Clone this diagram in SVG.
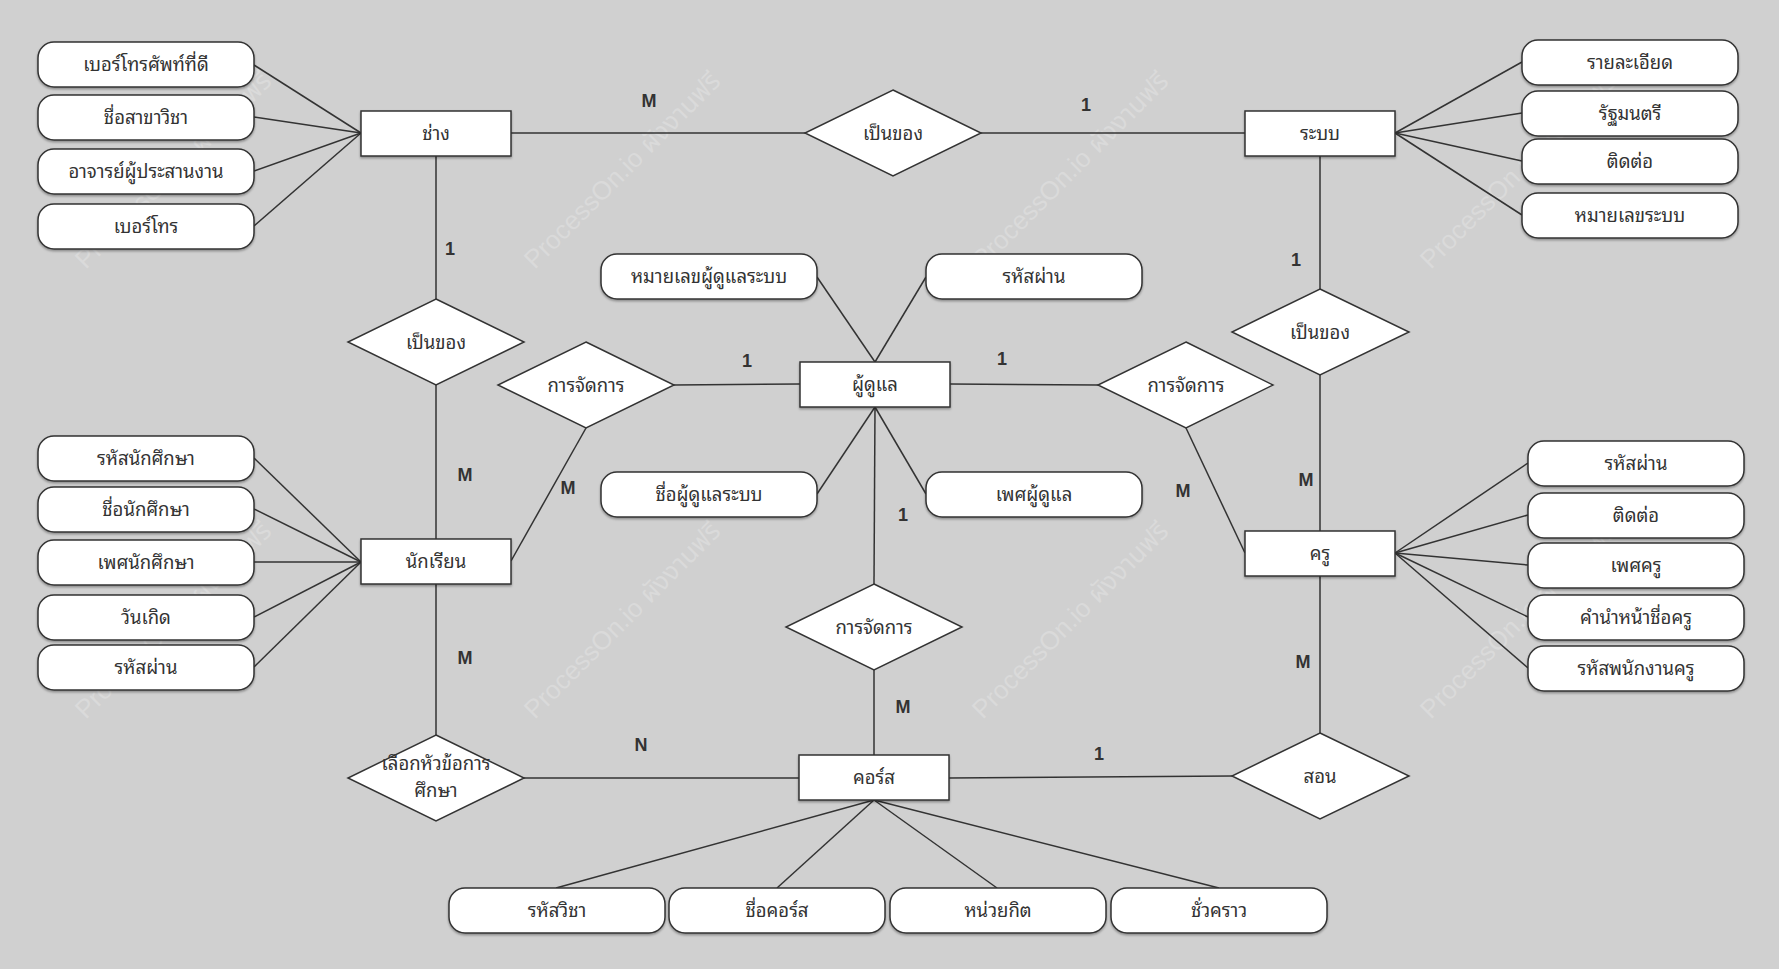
<svg xmlns="http://www.w3.org/2000/svg" width="1779" height="969" viewBox="0 0 1779 969">
<defs>
<filter id="sh" x="-10%" y="-20%" width="120%" height="150%">
<feDropShadow dx="0" dy="1.5" stdDeviation="0.8" flood-color="#000" flood-opacity="0.35"/>
</filter>
<style>
.bg{fill:#d0d0d0}
.wm{font-family:"Liberation Sans","Noto Sans Thai","Noto Sans","DejaVu Sans",sans-serif;font-size:26px;fill:#dadada;text-anchor:middle}
.pill{fill:#fff;stroke:#333;stroke-width:1.5;filter:url(#sh)}
.ent{fill:#fff;stroke:#333;stroke-width:1.5;filter:url(#sh)}
.rel{fill:#fff;stroke:#333;stroke-width:1.5}
.ln{stroke:#333;stroke-width:1.5;fill:none}
.t{font-family:"Noto Sans Thai Looped","Loma","Garuda","Waree","Tlwg Typo","Sarabun","Noto Sans Thai","Noto Sans","DejaVu Sans",sans-serif;font-size:18.5px;fill:#333;text-anchor:middle}
.c{font-family:"Liberation Sans",Arial,sans-serif;font-size:18px;font-weight:bold;fill:#333;text-anchor:middle}
</style>
</defs>
<rect class="bg" x="0" y="0" width="1779" height="969"/>
<g id="watermarks">
<text class="wm" transform="translate(173,170) rotate(-45)" y="9">ProcessOn.io ผังงานฟรี</text>
<text class="wm" transform="translate(622,170) rotate(-45)" y="9">ProcessOn.io ผังงานฟรี</text>
<text class="wm" transform="translate(1070,170) rotate(-45)" y="9">ProcessOn.io ผังงานฟรี</text>
<text class="wm" transform="translate(1518,170) rotate(-45)" y="9">ProcessOn.io ผังงานฟรี</text>
<text class="wm" transform="translate(173,620) rotate(-45)" y="9">ProcessOn.io ผังงานฟรี</text>
<text class="wm" transform="translate(622,620) rotate(-45)" y="9">ProcessOn.io ผังงานฟรี</text>
<text class="wm" transform="translate(1070,620) rotate(-45)" y="9">ProcessOn.io ผังงานฟรี</text>
<text class="wm" transform="translate(1518,620) rotate(-45)" y="9">ProcessOn.io ผังงานฟรี</text>
</g>
<g id="connectors">
<line class="ln" x1="254" y1="65" x2="361" y2="133"/>
<line class="ln" x1="254" y1="117" x2="361" y2="133"/>
<line class="ln" x1="254" y1="171" x2="361" y2="133"/>
<line class="ln" x1="254" y1="226" x2="361" y2="133"/>
<line class="ln" x1="511" y1="133" x2="805" y2="133"/>
<line class="ln" x1="981" y1="133" x2="1245" y2="133"/>
<line class="ln" x1="1395" y1="133" x2="1522" y2="62"/>
<line class="ln" x1="1395" y1="133" x2="1522" y2="113"/>
<line class="ln" x1="1395" y1="133" x2="1522" y2="161"/>
<line class="ln" x1="1395" y1="133" x2="1522" y2="215"/>
<line class="ln" x1="436" y1="156" x2="436" y2="299"/>
<line class="ln" x1="436" y1="385" x2="436" y2="539"/>
<line class="ln" x1="1320" y1="156" x2="1320" y2="289"/>
<line class="ln" x1="1320" y1="375" x2="1320" y2="531"/>
<line class="ln" x1="875" y1="362" x2="817" y2="277"/>
<line class="ln" x1="875" y1="362" x2="926" y2="277"/>
<line class="ln" x1="875" y1="407" x2="817" y2="494"/>
<line class="ln" x1="875" y1="407" x2="926" y2="494"/>
<line class="ln" x1="800" y1="384" x2="674" y2="385"/>
<line class="ln" x1="586" y1="428" x2="511" y2="561"/>
<line class="ln" x1="950" y1="384" x2="1098" y2="385"/>
<line class="ln" x1="1186" y1="428" x2="1245" y2="553"/>
<line class="ln" x1="875" y1="407" x2="874" y2="584"/>
<line class="ln" x1="874" y1="670" x2="874" y2="755"/>
<line class="ln" x1="254" y1="458" x2="361" y2="562"/>
<line class="ln" x1="254" y1="509" x2="361" y2="562"/>
<line class="ln" x1="254" y1="562" x2="361" y2="562"/>
<line class="ln" x1="254" y1="617" x2="361" y2="562"/>
<line class="ln" x1="254" y1="667" x2="361" y2="562"/>
<line class="ln" x1="436" y1="584" x2="436" y2="735"/>
<line class="ln" x1="524" y1="778" x2="799" y2="778"/>
<line class="ln" x1="1395" y1="553" x2="1528" y2="463"/>
<line class="ln" x1="1395" y1="553" x2="1528" y2="515"/>
<line class="ln" x1="1395" y1="553" x2="1528" y2="565"/>
<line class="ln" x1="1395" y1="553" x2="1528" y2="617"/>
<line class="ln" x1="1395" y1="553" x2="1528" y2="668"/>
<line class="ln" x1="1320" y1="576" x2="1320" y2="733"/>
<line class="ln" x1="949" y1="778" x2="1232" y2="776"/>
<line class="ln" x1="874" y1="800" x2="556" y2="888"/>
<line class="ln" x1="874" y1="800" x2="777" y2="888"/>
<line class="ln" x1="874" y1="800" x2="997" y2="888"/>
<line class="ln" x1="874" y1="800" x2="1219" y2="888"/>
</g>
<g id="cardinalities">
<text class="c" x="649" y="107">M</text>
<text class="c" x="1086" y="111">1</text>
<text class="c" x="450" y="255">1</text>
<text class="c" x="1296" y="266">1</text>
<text class="c" x="747" y="367">1</text>
<text class="c" x="1002" y="365">1</text>
<text class="c" x="465" y="481">M</text>
<text class="c" x="568" y="494">M</text>
<text class="c" x="1183" y="497">M</text>
<text class="c" x="1306" y="486">M</text>
<text class="c" x="903" y="521">1</text>
<text class="c" x="465" y="664">M</text>
<text class="c" x="1303" y="668">M</text>
<text class="c" x="903" y="713">M</text>
<text class="c" x="641" y="751">N</text>
<text class="c" x="1099" y="760">1</text>
</g>
<g id="e-chang"><rect class="ent" x="361" y="111" width="150" height="45"/><text class="t" x="436" y="140">ช่าง</text></g>
<g id="e-rabob"><rect class="ent" x="1245" y="111" width="150" height="45"/><text class="t" x="1320" y="140">ระบบ</text></g>
<g id="e-admin"><rect class="ent" x="800" y="362" width="150" height="45"/><text class="t" x="875" y="391">ผู้ดูแล</text></g>
<g id="e-student"><rect class="ent" x="361" y="539" width="150" height="45"/><text class="t" x="436" y="568">นักเรียน</text></g>
<g id="e-teacher"><rect class="ent" x="1245" y="531" width="150" height="45"/><text class="t" x="1320" y="560">ครู</text></g>
<g id="e-course"><rect class="ent" x="799" y="755" width="150" height="45"/><text class="t" x="874" y="784">คอร์ส</text></g>
<g id="r-belong1"><polygon class="rel" points="436,299 524,342 436,385 348,342"/><text class="t" x="436" y="349">เป็นของ</text></g>
<g id="r-belong2"><polygon class="rel" points="893,90 981,133 893,176 805,133"/><text class="t" x="893" y="140">เป็นของ</text></g>
<g id="r-belong3"><polygon class="rel" points="1320,289 1409,332 1320,375 1232,332"/><text class="t" x="1320" y="339">เป็นของ</text></g>
<g id="r-manage1"><polygon class="rel" points="586,342 674,385 586,428 498,385"/><text class="t" x="586" y="392">การจัดการ</text></g>
<g id="r-manage2"><polygon class="rel" points="1186,342 1273,385 1186,428 1098,385"/><text class="t" x="1186" y="392">การจัดการ</text></g>
<g id="r-manage3"><polygon class="rel" points="874,584 962,627 874,670 786,627"/><text class="t" x="874" y="634">การจัดการ</text></g>
<g id="r-select"><polygon class="rel" points="436,735 524,778 436,821 348,778"/><text class="t" x="436" y="770">เลือกหัวข้อการ<tspan x="436" dy="27">ศึกษา</tspan></text></g>
<g id="r-teach"><polygon class="rel" points="1320,733 1409,776 1320,819 1232,776"/><text class="t" x="1320" y="783">สอน</text></g>
<g id="a-chang-1"><rect class="pill" x="38" y="42" width="216" height="45" rx="16"/><text class="t" x="146" y="71">เบอร์โทรศัพท์ที่ดี</text></g>
<g id="a-chang-2"><rect class="pill" x="38" y="95" width="216" height="45" rx="16"/><text class="t" x="146" y="124">ชื่อสาขาวิชา</text></g>
<g id="a-chang-3"><rect class="pill" x="38" y="149" width="216" height="45" rx="16"/><text class="t" x="146" y="178">อาจารย์ผู้ประสานงาน</text></g>
<g id="a-chang-4"><rect class="pill" x="38" y="204" width="216" height="45" rx="16"/><text class="t" x="146" y="233">เบอร์โทร</text></g>
<g id="a-rabob-1"><rect class="pill" x="1522" y="40" width="216" height="45" rx="16"/><text class="t" x="1630" y="69">รายละเอียด</text></g>
<g id="a-rabob-2"><rect class="pill" x="1522" y="91" width="216" height="45" rx="16"/><text class="t" x="1630" y="120">รัฐมนตรี</text></g>
<g id="a-rabob-3"><rect class="pill" x="1522" y="139" width="216" height="45" rx="16"/><text class="t" x="1630" y="168">ติดต่อ</text></g>
<g id="a-rabob-4"><rect class="pill" x="1522" y="193" width="216" height="45" rx="16"/><text class="t" x="1630" y="222">หมายเลขระบบ</text></g>
<g id="a-admin-1"><rect class="pill" x="601" y="254" width="216" height="45" rx="16"/><text class="t" x="709" y="283">หมายเลขผู้ดูแลระบบ</text></g>
<g id="a-admin-2"><rect class="pill" x="926" y="254" width="216" height="45" rx="16"/><text class="t" x="1034" y="283">รหัสผ่าน</text></g>
<g id="a-admin-3"><rect class="pill" x="601" y="472" width="216" height="45" rx="16"/><text class="t" x="709" y="501">ชื่อผู้ดูแลระบบ</text></g>
<g id="a-admin-4"><rect class="pill" x="926" y="472" width="216" height="45" rx="16"/><text class="t" x="1034" y="501">เพศผู้ดูแล</text></g>
<g id="a-student-1"><rect class="pill" x="38" y="436" width="216" height="45" rx="16"/><text class="t" x="146" y="465">รหัสนักศึกษา</text></g>
<g id="a-student-2"><rect class="pill" x="38" y="487" width="216" height="45" rx="16"/><text class="t" x="146" y="516">ชื่อนักศึกษา</text></g>
<g id="a-student-3"><rect class="pill" x="38" y="540" width="216" height="45" rx="16"/><text class="t" x="146" y="569">เพศนักศึกษา</text></g>
<g id="a-student-4"><rect class="pill" x="38" y="595" width="216" height="45" rx="16"/><text class="t" x="146" y="624">วันเกิด</text></g>
<g id="a-student-5"><rect class="pill" x="38" y="645" width="216" height="45" rx="16"/><text class="t" x="146" y="674">รหัสผ่าน</text></g>
<g id="a-teacher-1"><rect class="pill" x="1528" y="441" width="216" height="45" rx="16"/><text class="t" x="1636" y="470">รหัสผ่าน</text></g>
<g id="a-teacher-2"><rect class="pill" x="1528" y="493" width="216" height="45" rx="16"/><text class="t" x="1636" y="522">ติดต่อ</text></g>
<g id="a-teacher-3"><rect class="pill" x="1528" y="543" width="216" height="45" rx="16"/><text class="t" x="1636" y="572">เพศครู</text></g>
<g id="a-teacher-4"><rect class="pill" x="1528" y="595" width="216" height="45" rx="16"/><text class="t" x="1636" y="624">คำนำหน้าชื่อครู</text></g>
<g id="a-teacher-5"><rect class="pill" x="1528" y="646" width="216" height="45" rx="16"/><text class="t" x="1636" y="675">รหัสพนักงานครู</text></g>
<g id="a-course-1"><rect class="pill" x="449" y="888" width="216" height="45" rx="16"/><text class="t" x="557" y="917">รหัสวิชา</text></g>
<g id="a-course-2"><rect class="pill" x="669" y="888" width="216" height="45" rx="16"/><text class="t" x="777" y="917">ชื่อคอร์ส</text></g>
<g id="a-course-3"><rect class="pill" x="890" y="888" width="216" height="45" rx="16"/><text class="t" x="998" y="917">หน่วยกิต</text></g>
<g id="a-course-4"><rect class="pill" x="1111" y="888" width="216" height="45" rx="16"/><text class="t" x="1219" y="917">ชั่วคราว</text></g>
</svg>
